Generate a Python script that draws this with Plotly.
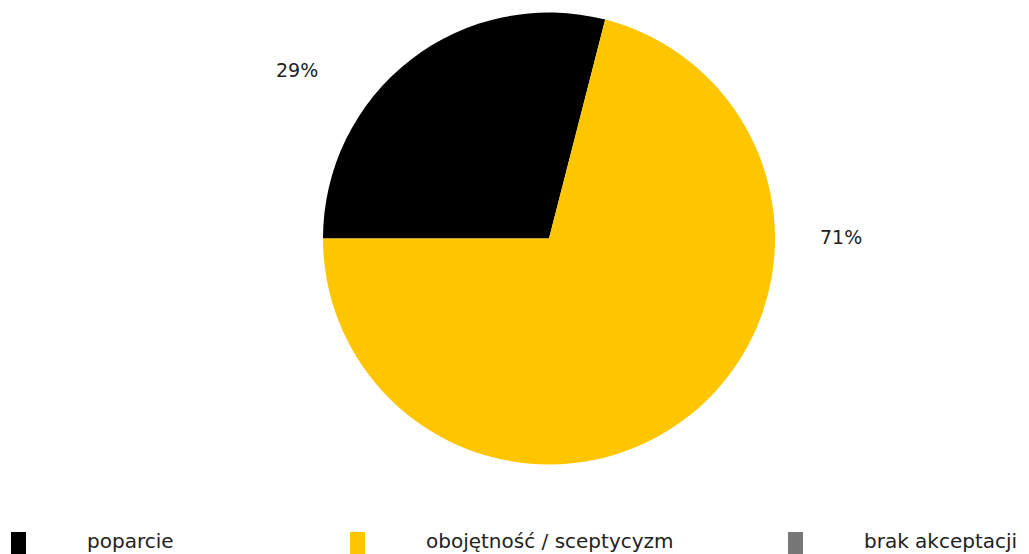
import plotly.graph_objects as go

# Survey answers and their shares (%)
categories = ["poparcie", "obojętność / sceptycyzm", "brak akceptacji"]
shares = [29, 71, 0]
colors = ["#000000", "#FFC600", "#777777"]

FONT = "DejaVu Sans"
TEXT_COLOR = "#222222"
W, H = 1029, 554

fig = go.Figure(
    go.Pie(
        labels=categories,
        values=shares,
        sort=False,
        direction="clockwise",
        rotation=-90,
        marker=dict(colors=colors, line=dict(width=0)),
        textinfo="none",
        hoverinfo="label+percent",
        showlegend=False,
        domain=dict(x=[323 / W, 775 / W], y=[1 - 465 / H, 1 - 12 / H]),
    )
)

# Percentage labels placed beside the pie
label_pos = [(297, 70), (841, 237)]
annotations = []
for (px, py), v in zip(label_pos, shares):
    if v <= 0:
        continue
    annotations.append(
        dict(
            x=px / W, y=1 - py / H, xref="paper", yref="paper",
            text=f"{v}%", showarrow=False,
            font=dict(family=FONT, size=19, color=TEXT_COLOR),
            xanchor="center", yanchor="middle",
        )
    )

# Legend row along the bottom edge
legend_swatch_x = [11, 350, 788]
legend_text_x = [85, 424, 862]
shapes = []
for sx, tx, name, c in zip(legend_swatch_x, legend_text_x, categories, colors):
    shapes.append(
        dict(
            type="rect", xref="paper", yref="paper",
            x0=sx / W, x1=(sx + 15) / W, y0=1 - 556 / H, y1=1 - 532 / H,
            fillcolor=c, line=dict(width=0),
        )
    )
    annotations.append(
        dict(
            x=tx / W, y=1 - 541 / H, xref="paper", yref="paper",
            text=name, showarrow=False,
            font=dict(family=FONT, size=20, color=TEXT_COLOR),
            xanchor="left", yanchor="middle",
        )
    )

fig.update_layout(
    width=W, height=H,
    margin=dict(l=0, r=0, t=0, b=0),
    paper_bgcolor="#ffffff",
    plot_bgcolor="#ffffff",
    annotations=annotations,
    shapes=shapes,
)

fig.write_html("out.html")
